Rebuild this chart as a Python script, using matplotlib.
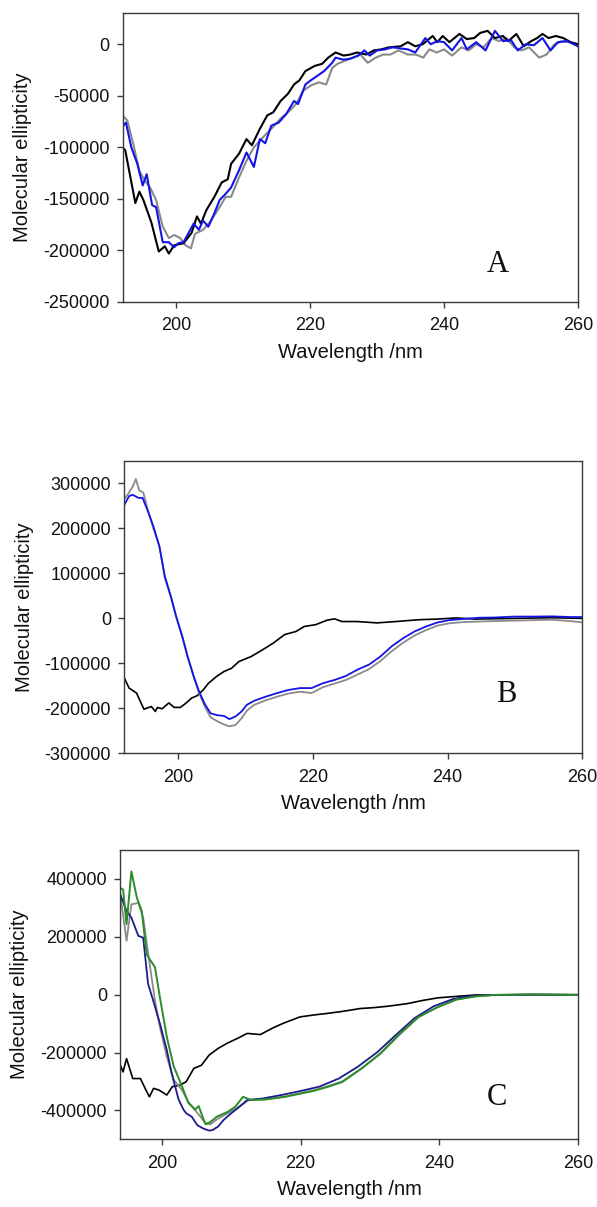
import numpy as np
import matplotlib
matplotlib.use("Agg")
import matplotlib.pyplot as plt
from matplotlib.ticker import FuncFormatter, FixedLocator

plt.rcParams['font.family'] = ['Liberation Sans', 'DejaVu Sans']
plt.rcParams['axes.unicode_minus'] = False

# ---------------- Panel A (values in thousands) ----------------
a_black_x = [192, 192.4, 193.9, 194.5, 195.1, 196.3, 197.4, 198.3, 198.9, 199.7, 201.1, 202.3,
             203.1, 203.7, 204.5, 205.7, 206.8, 207.7, 208.2, 209.4, 210.5, 211.3, 212.5, 213.6,
             214.5, 215.6, 216.7, 217.6, 218.4, 219.3, 220.7, 221.8, 222.7, 223.8, 225.0, 226.0,
             227.0, 228.4, 229.5, 230.6, 231.8, 233.5, 234.6, 235.7, 236.8, 238.3, 239.0, 239.8,
             240.8, 242.3, 243.4, 244.5, 245.4, 246.5, 247.6, 248.8, 249.6, 250.8, 251.9, 253.0,
             253.9, 254.7, 255.6, 256.7, 257.8, 258.9, 260]
a_black_y = [-100, -103, -154, -143, -151, -173, -201, -196, -203, -195, -193, -183,
             -167, -174, -161, -148, -134, -131, -116, -106, -92, -98, -82, -69,
             -66, -55, -48, -39, -35, -26, -21, -19, -13, -8, -11, -10,
             -8, -10, -6, -5, -3, -2, 2, -2, 0, 8, 2, 8,
             2, 10, 5, 6, 11, 13, 6, 8, 3, 10, -2, 3,
             6, 10, 6, 8, 6, 2, 0]

a_blue_x = [192, 192.5, 193.3, 194.2, 195.0, 195.6, 196.4, 197.0, 198.0, 198.9, 199.7, 200.3,
            201.1, 202.6, 203.4, 204.0, 204.8, 205.7, 206.5, 207.4, 208.2, 209.4, 210.5, 211.6,
            212.5, 213.3, 214.2, 215.3, 216.4, 217.6, 218.2, 219.3, 220.1, 221.0, 222.1, 223.3,
            223.8, 225.0, 226.0, 227.2, 228.1, 228.9, 230.0, 231.2, 232.3, 233.4, 234.6, 235.7,
            237.2, 238.0, 239.0, 240.0, 241.2, 242.6, 243.4, 244.8, 246.2, 247.6, 248.8, 250.0,
            251.0, 252.2, 253.4, 254.7, 255.9, 257.0, 258.4, 260]
a_blue_y = [-80, -76, -100, -116, -137, -126, -156, -158, -192, -192, -197, -193,
            -192, -174, -180, -171, -177, -164, -151, -145, -139, -122, -105, -119,
            -92, -96, -79, -76, -68, -55, -58, -39, -35, -31, -26, -18,
            -13, -15, -14, -11, -6, -11, -6, -5, -3, -4, -5, -8,
            6, 0, 3, 2, -6, 6, -5, 2, -6, 13, 3, 4,
            -6, 0, -1, 6, -6, 2, 3, -2]

a_gray_x = [192, 192.7, 193.6, 194.5, 195.3, 196.1, 197.0, 198.0, 198.9, 199.7, 200.6, 201.4,
            202.2, 202.8, 204.0, 205.1, 206.2, 207.4, 208.2, 209.4, 210.5, 211.6, 213.0, 214.2,
            215.6, 216.7, 217.9, 219.0, 220.1, 221.3, 222.4, 223.3, 224.1, 225.2, 226.4, 227.5,
            228.6, 229.8, 230.9, 232.0, 233.2, 234.6, 235.8, 236.9, 237.8, 238.9, 240.0, 241.2,
            242.6, 243.7, 244.8, 245.9, 247.1, 248.2, 249.3, 250.5, 251.6, 252.7, 254.2, 255.3,
            256.5, 257.6, 258.7, 260]
a_gray_y = [-69, -74, -97, -123, -132, -139, -151, -177, -188, -185, -188, -195,
            -198, -184, -180, -172, -161, -148, -148, -129, -113, -100, -90, -82,
            -72, -66, -58, -45, -40, -37, -39, -23, -19, -16, -13, -10,
            -18, -13, -10, -10, -6, -10, -10, -13, -5, -8, -5, -11,
            -3, -6, 0, -3, 6, 3, 6, -3, -6, -3, -13, -10,
            0, 3, 2, 0]

# ---------------- Panel B ----------------
b_black_x = [192, 192.7, 193.8, 194.9, 196.0, 196.6, 196.9, 197.6, 198.6, 199.4, 200.3, 201.1,
             202.0, 202.8, 203.7, 204.5, 205.7, 206.8, 207.9, 209.0, 210.8, 212.5, 214.1, 215.8,
             217.5, 218.7, 220.4, 222.1, 223.2, 224.3, 226.6, 229.5, 232.3, 235.7, 238.5, 241.3,
             244.1, 249.8, 255.5, 260]
b_black_y = [-133, -155, -166, -202, -196, -207, -198, -201, -188, -198, -198, -189,
             -177, -172, -159, -144, -129, -118, -111, -96, -85, -70, -55, -36,
             -29, -18, -14, -4, -1, -7, -7, -10, -7, -3, -1.5, 1,
             -1.5, 0, 1.5, 0]

b_blue_x = [192, 192.7, 193.2, 194.1, 194.7, 195.5, 196.3, 197.2, 198.0, 198.9, 199.7, 200.6,
            201.4, 202.3, 203.1, 204.0, 204.8, 205.7, 206.8, 207.6, 208.5, 209.4, 210.2, 211.3,
            213.0, 214.7, 216.4, 218.1, 219.8, 221.5, 223.2, 224.9, 226.6, 228.3, 230.0, 231.7,
            233.4, 235.1, 236.8, 238.5, 240.2, 242.5, 244.7, 247.0, 249.8, 252.6, 255.5, 258.3, 260]
b_blue_y = [253, 272, 275, 268, 268, 238, 205, 160, 94, 49, 4, -40,
            -85, -129, -163, -192, -211, -215, -217, -224, -218, -207, -192, -183,
            -174, -166, -159, -155, -155, -144, -137, -128, -114, -103, -85, -62,
            -44, -29, -18, -9, -4, -1, 1.5, 2, 4, 4, 4.5, 3, 3]

b_gray_x = [192, 192.7, 193.3, 193.7, 194.2, 194.8, 195.5, 196.3, 197.2, 198.0, 198.9, 199.7,
            200.6, 201.4, 202.3, 203.1, 204.0, 204.8, 205.7, 206.8, 207.6, 208.5, 209.4, 210.2,
            211.3, 213.0, 214.7, 216.4, 218.1, 219.8, 221.5, 223.2, 224.9, 226.6, 228.3, 230.0,
            231.7, 233.4, 235.1, 236.8, 238.5, 240.2, 242.5, 244.7, 247.0, 249.8, 252.6, 255.5,
            258.3, 260]
b_gray_y = [265, 280, 295, 310, 285, 280, 240, 200, 160, 90, 47, 2,
            -42, -87, -131, -167, -198, -220, -228, -236, -240, -237, -222, -205,
            -192, -182, -174, -167, -163, -166, -153, -145, -137, -125, -113, -95,
            -73, -54, -38, -26, -16, -11, -8, -7, -6, -5, -4, -3,
            -6, -9]

# ---------------- Panel C ----------------
c_black_x = [193.9, 194.4, 194.9, 195.8, 196.9, 197.7, 198.2, 198.8, 199.6, 200.7, 201.5, 202.6,
             203.5, 204.6, 205.7, 206.8, 208.1, 209.4, 211.0, 212.3, 214.2, 216.0, 217.5, 219.9,
             222.0, 223.8, 226.0, 228.6, 230.5, 232.6, 235.4, 237.6, 239.8, 242.5, 245.3, 248.0,
             253.5, 260]
c_black_y = [-238, -267, -221, -290, -290, -330, -353, -324, -330, -347, -318, -313,
             -301, -255, -244, -209, -186, -168, -150, -134, -138, -115, -99, -77,
             -70, -65, -58, -48, -45, -40, -31, -20, -11, -6, -1, -1,
             0, 0]

c_gray_x = [194.0, 194.9, 195.6, 196.6, 197.3, 198.3, 199.0, 199.7, 200.7, 201.7, 202.9, 203.8,
            204.8, 205.5, 206.3, 207.0, 208.0, 209.5, 211.0, 212.5, 215.0, 217.8, 220.0, 222.0,
            224.0, 226.0, 228.8, 231.5, 234.3, 237.0, 239.8, 242.5, 245.3, 248.0, 253.5, 260]
c_gray_y = [346, 186, 312, 317, 266, 95, -20, -111, -214, -294, -330, -370,
            -400, -420, -445, -448, -430, -410, -390, -365, -362, -352, -340, -330,
            -316, -300, -255, -205, -138, -78, -42, -16, -5, -1, 0, -1]

c_blue_x = [194.0, 194.9, 195.6, 196.6, 197.3, 198.0, 198.8, 199.7, 200.7, 201.4, 202.4, 203.1,
            203.5, 204.3, 205.1, 205.9, 206.8, 207.3, 208.1, 208.9, 210.0, 211.2, 212.3, 214.5,
            217.2, 220.0, 222.7, 225.5, 228.2, 231.0, 233.7, 236.5, 239.2, 242.0, 244.7, 248.0,
            253.5, 260]
c_blue_y = [346, 289, 266, 203, 197, 38, -25, -99, -191, -271, -362, -397,
            -410, -422, -451, -462, -470, -468, -456, -433, -410, -387, -364, -359,
            -347, -333, -318, -290, -250, -200, -140, -80, -40, -15, -4, -1,
            0, -1]

c_green_x = [194.0, 194.4, 194.9, 195.6, 196.4, 197.1, 197.8, 198.3, 199.0, 199.7, 200.7, 201.7,
             202.9, 203.8, 204.8, 205.3, 206.0, 206.3, 207.0, 207.9, 209.5, 210.6, 211.7, 212.8,
             215.0, 217.8, 220.0, 222.0, 224.0, 226.0, 228.8, 231.5, 234.3, 237.0, 239.8, 242.5,
             245.3, 248.0, 253.5, 260]
c_green_y = [369, 363, 243, 426, 334, 289, 140, 120, 95, -8, -145, -248,
             -317, -374, -397, -385, -431, -448, -440, -422, -405, -387, -353, -364,
             -362, -353, -342, -332, -318, -302, -255, -203, -134, -77, -43, -17,
             -6, -1, 1, -1]

x_ticks = [200, 220, 240, 260]
a_yticks = [0, -50000, -100000, -150000, -200000, -250000]
b_yticks = [300000, 200000, 100000, 0, -100000, -200000, -300000]
c_yticks = [400000, 200000, 0, -200000, -400000]

BLACK = '#000000'
GRAY = '#8a8a8a'
BLUE = '#1414e6'
NAVY = '#1c1c8c'
GREEN = '#2a8c2a'

W, H = 597, 1207
fig = plt.figure(figsize=(W / 100, H / 100), dpi=100)


def make_ax(l, t, r, b):
    return fig.add_axes([l / W, 1 - b / H, (r - l) / W, (b - t) / H])


def style(ax, xlim, ylim, yticks, letter, lpos):
    ax.set_xlim(*xlim)
    ax.set_ylim(*ylim)
    ax.xaxis.set_major_locator(FixedLocator(x_ticks))
    ax.yaxis.set_major_locator(FixedLocator(yticks))
    ax.yaxis.set_major_formatter(FuncFormatter(lambda v, p: '%d' % int(round(v))))
    for s in ax.spines.values():
        s.set_color('#3a3a3a')
        s.set_linewidth(1.0)
    ax.tick_params(direction='out', length=4, width=1.0, color='#3a3a3a',
                   labelsize=13, labelcolor='#111111')
    ax.tick_params(axis='x', pad=7)
    ax.tick_params(axis='y', pad=5.5)
    ax.set_xlabel('Wavelength /nm', fontsize=14.5, labelpad=6, color='#111111')
    ax.set_ylabel('Molecular ellipticity', fontsize=14.5, labelpad=8, color='#111111')
    ax.text(lpos[0], lpos[1], letter, fontsize=22, ha='center', va='baseline',
            family=['Liberation Serif', 'DejaVu Serif'], color='#111111')


def k(v):
    return np.asarray(v, dtype=float) * 1000.0


# Panel A
axA = make_ax(122.6, 13.3, 578, 302)
axA.plot(a_gray_x, k(a_gray_y), color=GRAY, lw=1.5)
axA.plot(a_black_x, k(a_black_y), color=BLACK, lw=1.5)
axA.plot(a_blue_x, k(a_blue_y), color=BLUE, lw=1.5)
style(axA, (192, 260), (-250000, 30000), a_yticks, 'A', (248.0, -221000))

# Panel B
axB = make_ax(124.4, 461, 582.3, 753.3)
axB.plot(b_black_x, k(b_black_y), color=BLACK, lw=1.2)
axB.plot(b_gray_x, k(b_gray_y), color=GRAY, lw=1.3)
axB.plot(b_blue_x, k(b_blue_y), color=BLUE, lw=1.3)
style(axB, (192, 260), (-300000, 350000), b_yticks, 'B', (248.7, -187000))

# Panel C
axC = make_ax(120.3, 850, 578, 1139.3)
axC.plot(c_black_x, k(c_black_y), color=BLACK, lw=1.2)
axC.plot(c_gray_x, k(c_gray_y), color=GRAY, lw=1.3)
axC.plot(c_blue_x, k(c_blue_y), color=NAVY, lw=1.3)
axC.plot(c_green_x, k(c_green_y), color=GREEN, lw=1.4)
style(axC, (194, 260), (-500000, 500000), c_yticks, 'C', (248.3, -383000))

fig.savefig('out.png', dpi=100)
